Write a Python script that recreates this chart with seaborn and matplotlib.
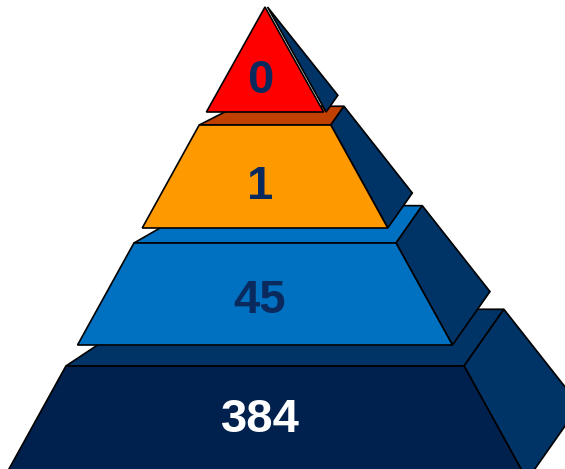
"""
Four-tier 3D pyramid: counts per level.
"""

import numpy as np
import matplotlib
matplotlib.use("Agg")
import matplotlib.pyplot as plt
from matplotlib.patches import Polygon
import seaborn as sns

# ── DATA ─────────────────────────────────────
tier_labels = ["0", "1", "45", "384"]
front_colors = ["#FF0000", "#FF9900", "#0070C0", "#00204E"]
top_colors = [None, "#C04000", "#0070C0", "#003366"]
text_colors = ["#0A2A5E", "#0A2A5E", "#0A2A5E", "#FFFFFF"]
SIDE_COLOR = "#003366"

# ── GEOMETRY (pixel space, y grows downward) ─
W, H = 565, 469
CX = 265
APEX_Y = 6
SLOPE = 0.553
tier_tops = [7, 125, 243, 366]
tier_bottoms = [112, 228, 345, 480]
side_gap = [2.5, 0, 0, 0]
label_dy = [-1, 0, -1, -5]
DEPTH = np.array([0.2, -0.285])


def half_width(y):
    return SLOPE * (y - APEX_Y)


def poly_centroid(pts):
    x, y = pts[:, 0], pts[:, 1]
    x1, y1 = np.roll(x, -1), np.roll(y, -1)
    cross = x * y1 - x1 * y
    a = cross.sum() / 2
    return ((x + x1) * cross).sum() / (6 * a), ((y + y1) * cross).sum() / (6 * a)


sns.set_theme(style="white")
plt.rcParams["font.family"] = ["Liberation Sans", "DejaVu Sans"]

fig = plt.figure(figsize=(W / 100, H / 100), dpi=100, facecolor="white")
ax = fig.add_axes([0, 0, 1, 1])
ax.set_xlim(0, W)
ax.set_ylim(H, 0)
ax.axis("off")

edge = dict(edgecolor="black", linewidth=1.2, joinstyle="miter")

# draw from the base upward so upper tiers sit over lower top faces
for i in reversed(range(len(tier_labels))):
    yt, yb = tier_tops[i], tier_bottoms[i]
    ht = 0.0 if i == 0 else half_width(yt)
    hb = half_width(yb)

    fl_t = np.array([CX - ht, yt])
    fr_t = np.array([CX + ht, yt])
    fr_b = np.array([CX + hb, yb])
    fl_b = np.array([CX - hb, yb])
    d_t = DEPTH * ht
    d_b = DEPTH * hb

    if top_colors[i] is not None:
        lean = 2.2 - 0.0035 * ht
        bl = np.array([fl_t[0] + lean * abs(d_t[1]), yt + d_t[1]])
        ax.add_patch(Polygon([fl_t, fr_t, fr_t + d_t, bl],
                             facecolor=top_colors[i], **edge))

    shift = np.array([side_gap[i], 0])
    side = np.array([fr_t, fr_t + d_t, fr_b + d_b, fr_b]) + shift
    ax.add_patch(Polygon(side, facecolor=SIDE_COLOR, **edge))

    front = np.array([fl_t, fr_t, fr_b, fl_b])
    if i == 0:
        front = np.array([fl_t, fr_b, fl_b])
    ax.add_patch(Polygon(front, facecolor=front_colors[i], **edge))

    vis = front.copy()
    if i > 0 and yb > H:
        vis[2] = [CX + half_width(H), H]
        vis[3] = [CX - half_width(H), H]
    tx, ty = poly_centroid(vis)
    ax.text(tx - 5, ty + label_dy[i], tier_labels[i], ha="center",
            va="center_baseline", fontsize=34, fontweight="bold",
            color=text_colors[i])

plt.savefig("out.png", dpi=100, facecolor="white")
plt.close()
